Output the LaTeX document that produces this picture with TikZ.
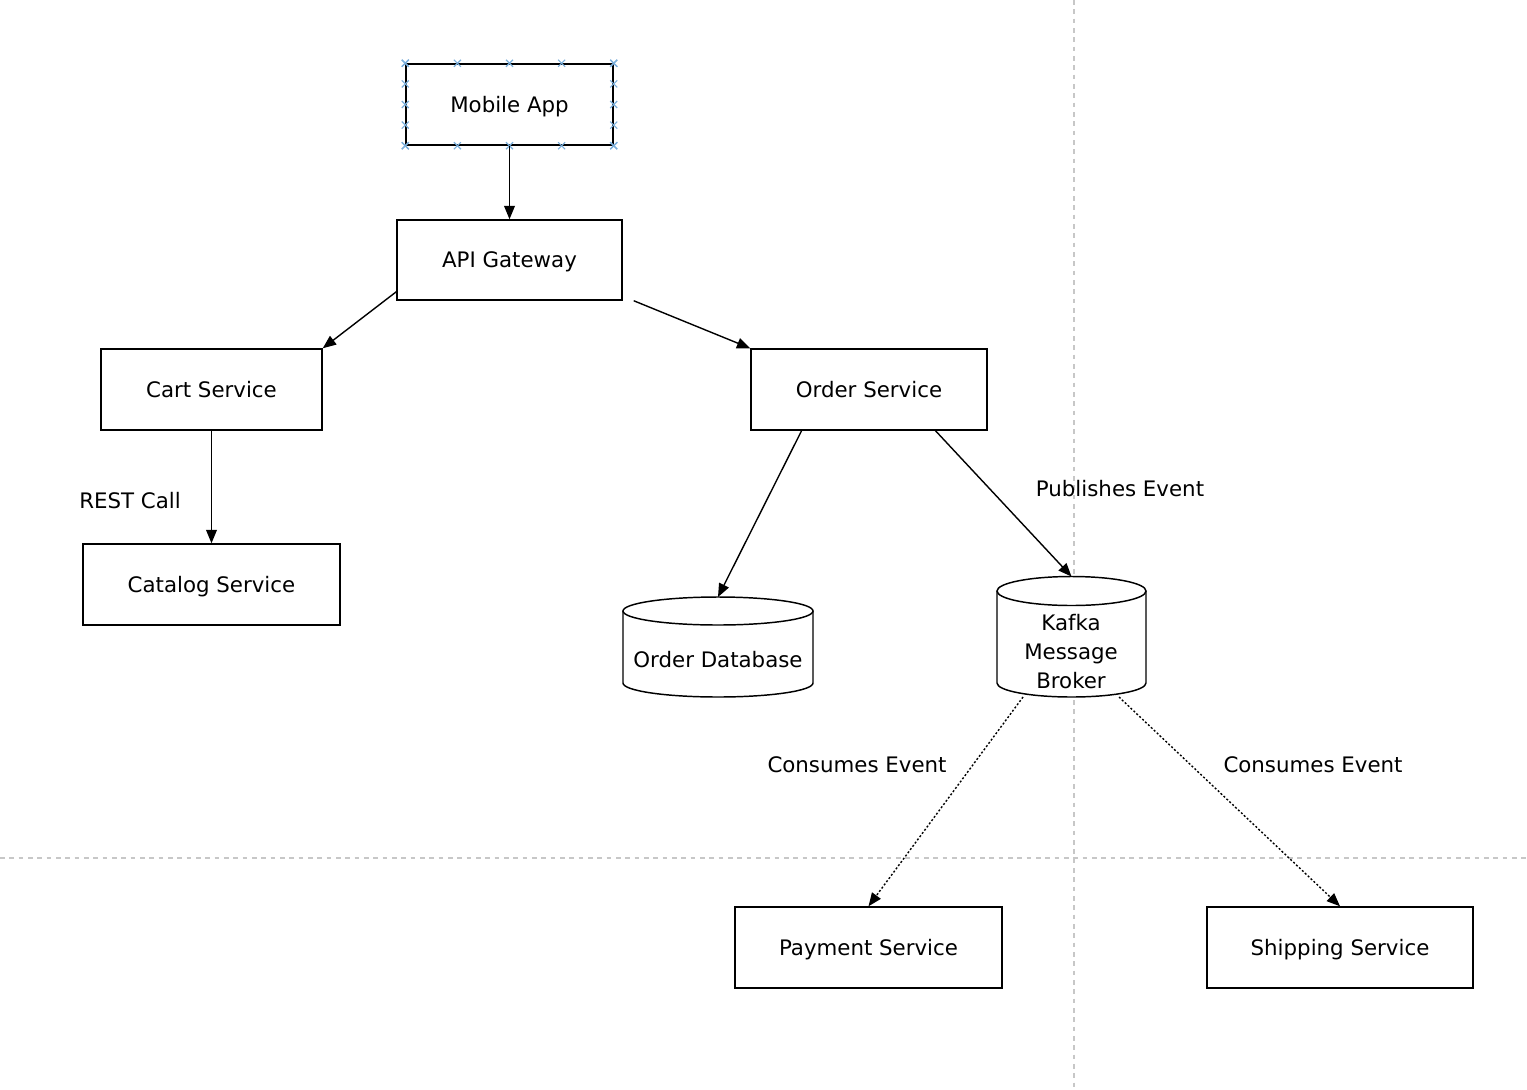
\documentclass[tikz,border=0pt]{standalone}
\usepackage{fontspec}
\setmainfont{DejaVu Sans}
\usetikzlibrary{arrows.meta,calc}
\definecolor{handle}{HTML}{7BAFDB}
\begin{document}
\begin{tikzpicture}[x=0.75pt,y=-0.75pt,
  font=\fontsize{16}{19}\selectfont,
  box/.style={draw,line width=1.1pt,rectangle,inner sep=0pt,text height=14.5pt,text depth=3pt},
  plain/.style={inner sep=0pt},
  lab/.style={inner sep=0pt,text height=14.5pt,text depth=3pt},
  conn/.style={line width=1.05pt,-{Triangle[length=10pt,width=8pt]}},
  dotconn/.style={line width=1.05pt,dash pattern=on 1.5pt off 1.5pt,-{Triangle[length=10pt,width=8pt]}},
  guide/.style={draw=black!22,line width=0.9pt,dash pattern=on 3.5pt off 3.5pt},
  xmark/.style={draw=handle,line width=0.9pt},
  cyl/.style={line width=1.1pt,fill=white}]
\path[use as bounding box,fill=white] (0,0) rectangle (1527,1089);
% guides
\coordinate (gv1) at (1074,0); \coordinate (gv2) at (1074,1089);
\coordinate (gh1) at (0,858); \coordinate (gh2) at (1527,858);
\draw[guide] (gv1) -- (gv2);
\draw[guide] (gh1) -- (gh2);
% boxes
\node[box,minimum width=207*0.75pt,minimum height=81*0.75pt] (mobile) at (509.5,104.5) {Mobile App};
\node[box,minimum width=225*0.75pt,minimum height=80*0.75pt] (api) at (509.5,260) {API Gateway};
\node[box,minimum width=221*0.75pt,minimum height=81*0.75pt] (cart) at (211.5,389.5) {Cart Service};
\node[box,minimum width=257*0.75pt,minimum height=81*0.75pt] (catalog) at (211.5,584.5) {Catalog Service};
\node[box,minimum width=236*0.75pt,minimum height=81*0.75pt] (order) at (869,389.5) {Order Service};
\node[box,minimum width=267*0.75pt,minimum height=81*0.75pt] (payment) at (868.5,947.5) {Payment Service};
\node[box,minimum width=266*0.75pt,minimum height=81*0.75pt] (shipping) at (1340,947.5) {Shipping Service};
% markers on mobile app
\foreach \p in {0,0.25,0.5,0.75,1}{
  \draw[xmark] ($(mobile.north west)!\p!(mobile.north east)$) +(-3.5,-3.5) -- +(3.5,3.5) +(-3.5,3.5) -- +(3.5,-3.5);
  \draw[xmark] ($(mobile.south west)!\p!(mobile.south east)$) +(-3.5,-3.5) -- +(3.5,3.5) +(-3.5,3.5) -- +(3.5,-3.5);
  \draw[xmark] ($(mobile.north west)!\p!(mobile.south west)$) +(-3.5,-3.5) -- +(3.5,3.5) +(-3.5,3.5) -- +(3.5,-3.5);
  \draw[xmark] ($(mobile.north east)!\p!(mobile.south east)$) +(-3.5,-3.5) -- +(3.5,3.5) +(-3.5,3.5) -- +(3.5,-3.5);
}
% cylinders
\draw[cyl] (623,611) -- (623,683) arc[start angle=180,end angle=0,x radius=95,y radius=14] -- (813,611);
\draw[cyl] (718,611) ellipse[x radius=95,y radius=14];
\node[plain,minimum width=190*0.75pt,minimum height=100*0.75pt] (odb) at (718,647) {};
\node[lab] (odbtext) at (718,660) {Order Database};
\coordinate (odbtop) at (718,597);

\draw[cyl] (997,591) -- (997,683) arc[start angle=180,end angle=0,x radius=74.5,y radius=14] -- (1146,591);
\draw[cyl] (1071.5,591) ellipse[x radius=74.5,y radius=14.5];
\node[plain,minimum width=149*0.75pt,minimum height=120*0.75pt] (kafka) at (1071.5,637) {};
\node[plain,align=center,font=\fontsize{16}{21.75}\selectfont] (kafkatext) at (1071,652) {Kafka\\Message\\Broker};
\coordinate (kafkatop) at (1071.5,576.5);
\coordinate (kafkabl) at (1023,697);
\coordinate (kafkabr) at (1119,697);
% connectors
\draw[conn] (mobile.south) -- (api.north);
\draw[conn] ($(api.south west)!0.11!(api.north west)$) -- (cart.north east);
\draw[conn] ($(api.south east)+(11,0)$) -- (order.north west);
\draw[conn] (cart.south) -- (catalog.north);
\draw[conn] ($(order.south west)!0.216!(order.south east)$) -- (odbtop);
\draw[conn] ($(order.south west)!0.78!(order.south east)$) -- (kafkatop);
\draw[dotconn] (kafkabl) -- (payment.north);
\draw[dotconn] (kafkabr) -- (shipping.north);
% labels
\node[lab] (lrest) at (130,501) {REST Call};
\node[lab] (lpub) at (1120,489) {Publishes Event};
\node[lab] (lcons1) at (857,765) {Consumes Event};
\node[lab] (lcons2) at (1313,765) {Consumes Event};
\end{tikzpicture}
\end{document}
